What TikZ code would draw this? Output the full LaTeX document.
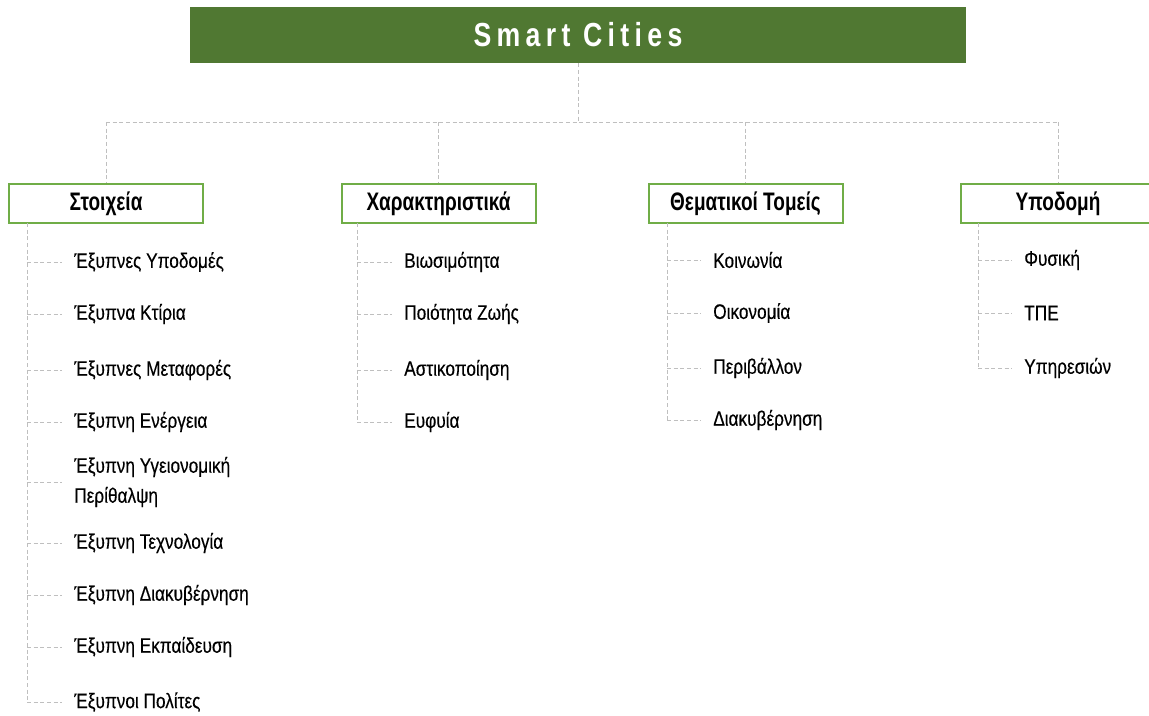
\documentclass[tikz,border=0pt]{standalone}
\usepackage{fontspec}
\setmainfont{Liberation Sans}[FakeStretch=0.82,FakeBold=0.3]
\newfontfamily\headfont{Liberation Sans}[FakeStretch=0.75]
\newfontfamily\cityfont{Liberation Sans}[FakeStretch=0.8,LetterSpace=16]
\definecolor{cityGreen}{HTML}{507832}
\definecolor{boxGreen}{HTML}{70AD47}
\definecolor{dashGrey}{HTML}{BFBFBF}

\begin{document}
\begin{tikzpicture}[x=0.75pt,y=-0.75pt,
  link/.style={draw=dashGrey,line width=0.75pt,dash pattern=on 3pt off 2pt},
  city/.style={fill=cityGreen,text=white,minimum width=582pt,minimum height=42pt,
    font=\cityfont\bfseries\fontsize{25}{30}\selectfont},
  head/.style={draw=boxGreen,line width=1.5pt,fill=white,minimum width=145.5pt,
    minimum height=29.25pt,inner sep=0pt,font=\headfont\bfseries\fontsize{19}{22}\selectfont},
  item/.style={anchor=west,inner xsep=9pt,inner ysep=0pt,align=left,
    font=\fontsize{15.75}{22.5}\selectfont}]
  \useasboundingbox (0,0) rectangle (1149,715);

  \node[city] (SC) at (578,35) {Smart Cities};

  \node[head] (St) at (106,203.5)   {Στοιχεία};
  \node[head] (Ch) at (438.5,203.5) {Χαρακτηριστικά};
  \node[head] (Th) at (745.5,203.5) {Θεματικοί Τομείς};
  \node[head] (Yp) at (1058,203.5)  {Υποδομή};

  \coordinate (bus) at (578,122);
  \draw[link] (SC) -- (bus);
  \draw[link] (St |- bus) -- (Yp |- bus);
  \foreach \n in {St,Ch,Th,Yp} {
    \draw[link] (\n |- bus) -- (\n);
  }

  \coordinate (St0) at (27,223);
  \foreach \y/\i/\txt in {262/1/Έξυπνες Υποδομές, 314/2/Έξυπνα Κτίρια,
      370/3/Έξυπνες Μεταφορές, 422/4/Έξυπνη Ενέργεια,
      482/5/{Έξυπνη Υγειονομική\\Περίθαλψη}, 543/6/Έξυπνη Τεχνολογία,
      595/7/Έξυπνη Διακυβέρνηση, 647/8/Έξυπνη Εκπαίδευση, 702/9/Έξυπνοι Πολίτες} {
    \node[item] (St\i) at (62,\y) {\txt};
    \draw[link] (St0 |- St\i) -- (St\i);
  }
  \draw[link] (St0) -- (St0 |- St9);

  \coordinate (Ch0) at (357,223);
  \foreach \y/\i/\txt in {262/1/Βιωσιμότητα, 314/2/Ποιότητα Ζωής,
      370/3/Αστικοποίηση, 422/4/Ευφυία} {
    \node[item] (Ch\i) at (392,\y) {\txt};
    \draw[link] (Ch0 |- Ch\i) -- (Ch\i);
  }
  \draw[link] (Ch0) -- (Ch0 |- Ch4);

  \coordinate (Th0) at (667,223);
  \foreach \y/\i/\txt in {260/1/Κοινωνία, 313/2/Οικονομία,
      368/3/Περιβάλλον, 420/4/Διακυβέρνηση} {
    \node[item] (Th\i) at (701,\y) {\txt};
    \draw[link] (Th0 |- Th\i) -- (Th\i);
  }
  \draw[link] (Th0) -- (Th0 |- Th4);

  \coordinate (Yp0) at (978,223);
  \foreach \y/\i/\txt in {260/1/Φυσική, 313/2/ΤΠΕ, 368/3/Υπηρεσιών} {
    \node[item] (Yp\i) at (1012,\y) {\txt};
    \draw[link] (Yp0 |- Yp\i) -- (Yp\i);
  }
  \draw[link] (Yp0) -- (Yp0 |- Yp3);

\end{tikzpicture}
\end{document}
